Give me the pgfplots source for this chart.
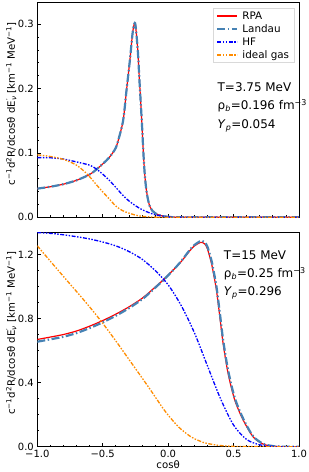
\documentclass[border=0pt]{standalone}
\usepackage{pgfplots}
\pgfplotsset{compat=1.18}
\usepackage{fontspec}
\setmainfont{DejaVu Sans}
\setsansfont{DejaVu Sans}
\definecolor{landau}{HTML}{4682B4}
\definecolor{dorange}{HTML}{FF8C00}
\definecolor{rpared}{HTML}{FF0000}

\pgfplotstableread{
x y
-1.00 0.0445
-0.90 0.0475
-0.80 0.0515
-0.70 0.0575
-0.60 0.0665
-0.55 0.0740
-0.50 0.0830
-0.45 0.0930
-0.40 0.1080
-0.37 0.1280
-0.35 0.1440
-0.34 0.1560
-0.33 0.1740
-0.32 0.1940
-0.30 0.2300
-0.29 0.2490
-0.28 0.2700
-0.27 0.2890
-0.26 0.3000
-0.255 0.3020
-0.25 0.2990
-0.24 0.2790
-0.23 0.2530
-0.22 0.2150
-0.21 0.1800
-0.20 0.1440
-0.19 0.1030
-0.18 0.0700
-0.17 0.0480
-0.16 0.0340
-0.15 0.0240
-0.14 0.0170
-0.12 0.0100
-0.10 0.0065
-0.07 0.0035
-0.03 0.0015
0.02 0.0005
0.10 0.0000
1.00 0.0000
}\toprpa

\pgfplotstableread{
x y
-1.00 0.0927
-0.90 0.0925
-0.80 0.0905
-0.70 0.0860
-0.60 0.0810
-0.55 0.0752
-0.50 0.0670
-0.45 0.0575
-0.40 0.0465
-0.35 0.0350
-0.30 0.0255
-0.25 0.0180
-0.20 0.0120
-0.15 0.0075
-0.10 0.0040
-0.05 0.0020
0.00 0.0008
0.10 0.0001
1.00 0.0000
}\tophf

\pgfplotstableread{
x y
-1.00 0.0970
-0.95 0.0960
-0.90 0.0945
-0.85 0.0925
-0.80 0.0900
-0.75 0.0860
-0.70 0.0810
-0.65 0.0730
-0.60 0.0630
-0.55 0.0510
-0.50 0.0395
-0.45 0.0285
-0.40 0.0175
-0.35 0.0105
-0.30 0.0065
-0.25 0.0035
-0.20 0.0015
-0.10 0.0003
0.00 0.0000
1.00 0.0000
}\topideal

\pgfplotstableread{
x y
-1.00 0.669
-0.90 0.684
-0.80 0.700
-0.70 0.722
-0.60 0.752
-0.50 0.787
-0.40 0.827
-0.30 0.872
-0.20 0.925
-0.14 0.966
-0.10 0.995
-0.038 1.040
0.00 1.070
0.064 1.123
0.10 1.155
0.166 1.223
0.20 1.252
0.242 1.273
0.26 1.275
0.28 1.265
0.30 1.235
0.331 1.144
0.35 1.065
0.369 0.978
0.395 0.810
0.42 0.645
0.458 0.458
0.509 0.291
0.573 0.167
0.649 0.062
0.725 0.017
0.80 0.003
0.90 0.000
1.00 0.000
}\botrpa

\pgfplotstableread{
x y
-1.00 0.655
-0.90 0.670
-0.80 0.686
-0.70 0.709
-0.60 0.740
-0.50 0.776
-0.40 0.817
-0.30 0.864
-0.20 0.919
-0.14 0.961
-0.10 0.991
-0.038 1.038
0.00 1.069
0.064 1.124
0.10 1.158
0.166 1.228
0.20 1.258
0.242 1.281
0.26 1.284
0.28 1.275
0.30 1.248
0.331 1.162
0.35 1.085
0.369 1.000
0.395 0.835
0.42 0.668
0.458 0.478
0.509 0.305
0.573 0.176
0.649 0.066
0.725 0.019
0.80 0.004
0.90 0.000
1.00 0.000
}\botlandau

\pgfplotstableread{
x y
-1.00 1.336
-0.90 1.331
-0.80 1.322
-0.70 1.310
-0.60 1.296
-0.50 1.277
-0.40 1.253
-0.30 1.218
-0.20 1.170
-0.10 1.100
0.00 1.010
0.10 0.880
0.20 0.712
0.30 0.505
0.40 0.300
0.50 0.135
0.60 0.045
0.70 0.012
0.80 0.002
0.90 0.000
1.00 0.000
}\bothf

\pgfplotstableread{
x y
-1.00 1.253
-0.90 1.157
-0.80 1.062
-0.70 0.968
-0.60 0.872
-0.50 0.770
-0.40 0.660
-0.30 0.545
-0.20 0.430
-0.14 0.360
-0.10 0.312
-0.04 0.240
0.00 0.197
0.06 0.140
0.10 0.108
0.166 0.066
0.20 0.050
0.267 0.027
0.30 0.020
0.37 0.010
0.40 0.007
0.50 0.002
0.60 0.0005
1.00 0.000
}\botideal

\tikzset{ann/.style={anchor=base west, font=\fontsize{12}{14}\selectfont, inner sep=0pt}}

\pgfplotsset{
  myax/.style={
    scale only axis, width=261.7bp, height=214.3bp,
    xmin=-1, xmax=1,
    xtick={-1,-0.5,0,0.5,1},
    minor x tick num=4,
    tick align=inside, tick pos=left,
    major tick length=3.5bp, minor tick length=2bp,
    axis line style={line width=1bp, black},
    every tick/.append style={black, line width=0.7bp},
    tick label style={font=\fontsize{10}{11}\selectfont},
    label style={font=\fontsize{10.2}{12}\selectfont},
    clip mode=individual,
    ylabel={c\textsuperscript{−1}d\textsuperscript{2}R/dcosθ dE\rlap{\textsuperscript{′}}\textsubscript{\textit{ν}} [km\textsuperscript{−1} MeV\textsuperscript{−1}]},
    ylabel style={at={(axis description cs:0,0.53)}, anchor=base, yshift=22.3bp},
  },
  rpa/.style={draw=rpared, line width=1.2bp, solid, smooth},
  lan/.style={draw=landau, line width=2.2bp, dash pattern=on 8bp off 2.5bp on 1.5bp off 2.5bp, smooth},
  hf/.style={draw=blue, line width=1.3bp, dash pattern=on 4bp off 1.5bp on 1.5bp off 1.5bp on 1.5bp off 1.5bp, smooth},
  ig/.style={draw=dorange, line width=1.3bp, dash pattern=on 4bp off 1.5bp on 1.5bp off 1.5bp on 1.5bp off 1.5bp, smooth},
}

\begin{document}
\begin{tikzpicture}[x=1bp,y=1bp]
\begin{axis}[myax, at={(37.3bp,254.7bp)}, anchor=south west,
  ymin=0, ymax=0.333,
  ytick={0,0.1,0.2,0.3}, yticklabels={0.0,0.1,0.2,0.3},
  minor y tick num=4,
  xticklabels={},
  legend cell align=left,
  legend style={at={(rel axis cs:1,1)}, anchor=north east, xshift=-4.7bp, yshift=-5.5bp,
    draw=black!15, fill=white,
    font=\fontsize{10.4}{12}\selectfont,
    inner xsep=3bp, inner ysep=1bp,
    row sep=-0.3bp,
    /tikz/every odd column/.append style={column sep=2bp}},
]
\addplot[rpa, forget plot] table[x=x,y=y] {\toprpa};
\addplot[lan, forget plot] table[x=x,y=y] {\toprpa};
\addplot[hf, forget plot] table[x=x,y=y] {\tophf};
\addplot[ig, forget plot] table[x=x,y=y] {\topideal};
\addlegendimage{legend image code/.code={\draw[draw=rpared, line width=1.8bp] (0bp,0bp) -- (20bp,0bp);}}
\addlegendentry{RPA}
\addlegendimage{legend image code/.code={\draw[draw=landau, line width=2.2bp, dash pattern=on 8bp off 2.5bp on 1.5bp off 2.5bp] (0bp,0bp) -- (20bp,0bp);}}
\addlegendentry{Landau}
\addlegendimage{legend image code/.code={\draw[draw=blue, line width=1.3bp, dash pattern=on 4bp off 1.5bp on 1.5bp off 1.5bp on 1.5bp off 1.5bp] (0bp,0bp) -- (20bp,0bp);}}
\addlegendentry{HF}
\addlegendimage{legend image code/.code={\draw[draw=dorange, line width=1.3bp, dash pattern=on 4bp off 1.5bp on 1.5bp off 1.5bp on 1.5bp off 1.5bp] (0bp,0bp) -- (20bp,0bp);}}
\addlegendentry{ideal gas}
\node[ann] at (axis cs:0.377,0.1953) {T=3.75 MeV};
\node[ann] at (axis cs:0.377,0.1669) {ρ\textsubscript{\textit{b}}=0.196 fm\textsuperscript{−3}};
\node[ann] at (axis cs:0.377,0.1384) {\textit{Y}\textsubscript{\textit{p}}=0.054};
\end{axis}

\begin{axis}[myax, at={(37.3bp,25.3bp)}, anchor=south west,
  ymin=0, ymax=1.337,
  ytick={0,0.4,0.8,1.2}, yticklabels={0.0,0.4,0.8,1.2},
  minor y tick num=3,
  xticklabels={−1.0,−0.5,0.0,0.5,1.0},
  xlabel={cosθ},
  xlabel style={at={(axis description cs:0.5,0)}, anchor=base, yshift=-22.3bp},
]
\addplot[rpa] table[x=x,y=y] {\botrpa};
\addplot[lan] table[x=x,y=y] {\botlandau};
\addplot[hf] table[x=x,y=y] {\bothf};
\addplot[ig] table[x=x,y=y] {\botideal};
\node[ann] at (axis cs:0.425,1.165) {T=15 MeV};
\node[ann] at (axis cs:0.425,1.054) {ρ\textsubscript{\textit{b}}=0.25 fm\textsuperscript{−3}};
\node[ann] at (axis cs:0.425,0.942) {\textit{Y}\textsubscript{\textit{p}}=0.296};
\end{axis}
\pgfresetboundingbox
\useasboundingbox (0,0) rectangle (309bp,472bp);
\end{tikzpicture}
\end{document}
